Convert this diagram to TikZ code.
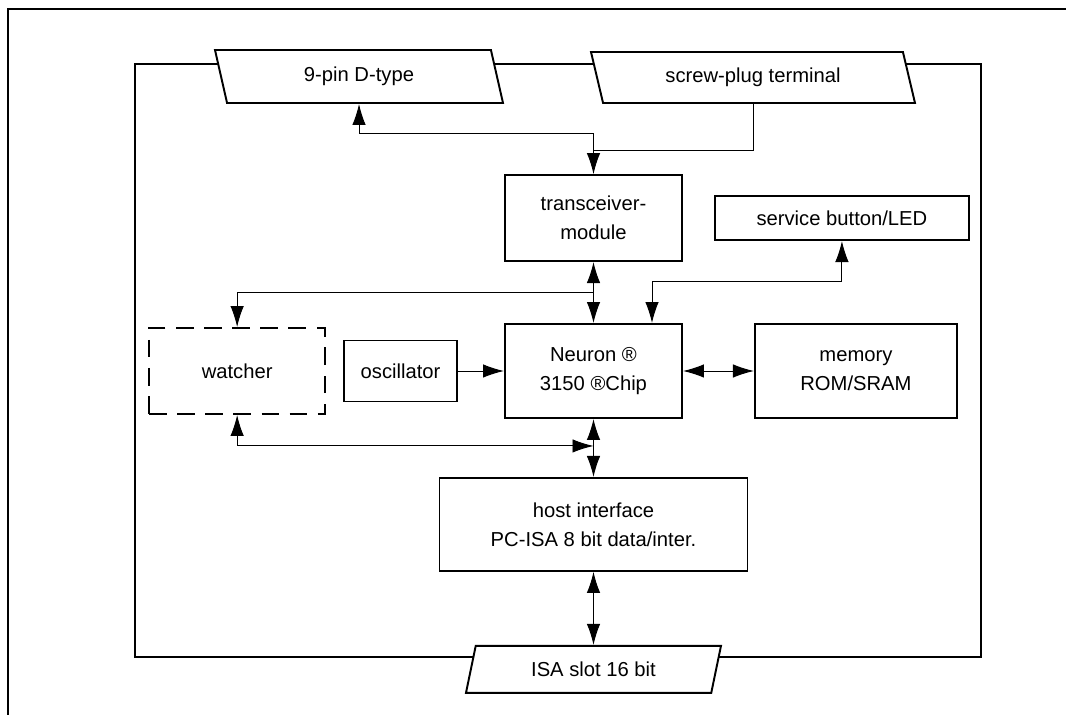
\documentclass[tikz,border=0pt]{standalone}
\usepackage{fontspec}
\setmainfont{Liberation Sans}
\usetikzlibrary{positioning, arrows.meta, shapes.geometric}

\begin{document}
\begin{tikzpicture}[every node/.style={inner sep=2pt, align=center, font=\fontsize{11.5}{16.5}\selectfont},
  >={Latex[length=0.42cm, width=0.27cm]},
  blk/.style={draw, line width=1.1pt, fill=white},
  port/.style={trapezium, trapezium stretches body, draw, line width=1.1pt, fill=white},
  wire/.style={line width=0.55pt},
  arrow/.style={->, line width=0.55pt},
  biarrow/.style={<->, line width=0.55pt}]
\useasboundingbox (0,0) rectangle (21.32,-14.3);
\draw[line width=1.5pt] (0.16,-14.3) -- (0.16,-0.18) -- (21.32,-0.18);
\draw[line width=1.1pt] (2.70,-1.28) rectangle (19.62,-13.14);
\node[blk, minimum width=3.54cm, minimum height=1.88cm] (chip) at (11.87,-7.42) {Neuron ®\\3150 ®Chip};
\node[blk, minimum width=3.54cm, minimum height=1.72cm, above=1.22cm of chip] (trx) {transceiver-\\module};
\node[blk, minimum width=5.08cm, minimum height=0.88cm, right=0.62cm of trx] (svc) {service button/LED};
\node[blk, minimum width=4.04cm, minimum height=1.88cm, right=1.42cm of chip] (mem) {memory\\ROM/SRAM};
\node[blk, minimum width=2.26cm, minimum height=1.22cm, left=0.92cm of chip] (osc) {oscillator};
\node[blk, dash pattern=on 10pt off 6pt, minimum width=3.52cm, minimum height=1.72cm, left=0.34cm of osc] (wd) {watcher};
\node[blk, minimum width=6.16cm, minimum height=1.86cm, below=1.16cm of chip] (host) {host interface\\PC-ISA 8 bit data/inter.};
\node[port, trapezium left angle=66, trapezium right angle=114, minimum width=5.1cm, minimum height=0.94cm, below=1.46cm of host] (isa) {ISA slot 16 bit};
\node[port, trapezium left angle=115, trapezium right angle=65, minimum width=5.76cm, minimum height=1.06cm] (dsub) at (7.18,-1.53) {9-pin D-type};
\node[port, trapezium left angle=115, trapezium right angle=65, minimum width=6.48cm, minimum height=1.02cm] (screw) at (15.06,-1.55) {screw-plug terminal};
\coordinate (tap) at ([yshift=0.48cm]trx.north);
\coordinate (wtap) at ([yshift=0.62cm]chip.north);
\coordinate (htap) at ([yshift=-0.54cm]chip.south);
\draw[biarrow] (dsub.south) -- ++(0,-0.6) -| (trx.north);
\draw[wire] (screw.south) |- (tap);
\draw[biarrow] (trx) -- (chip);
\draw[arrow] (wtap) -| (wd.north);
\draw[biarrow] (svc.south) -- ++(0,-0.8) -| ([xshift=1.17cm]chip.north);
\draw[arrow] (osc) -- (chip);
\draw[biarrow] (chip) -- (mem);
\draw[biarrow] (chip) -- (host);
\draw[biarrow] (wd.south) |- (htap);
\draw[biarrow] (host) -- (isa);
\end{tikzpicture}
\end{document}
